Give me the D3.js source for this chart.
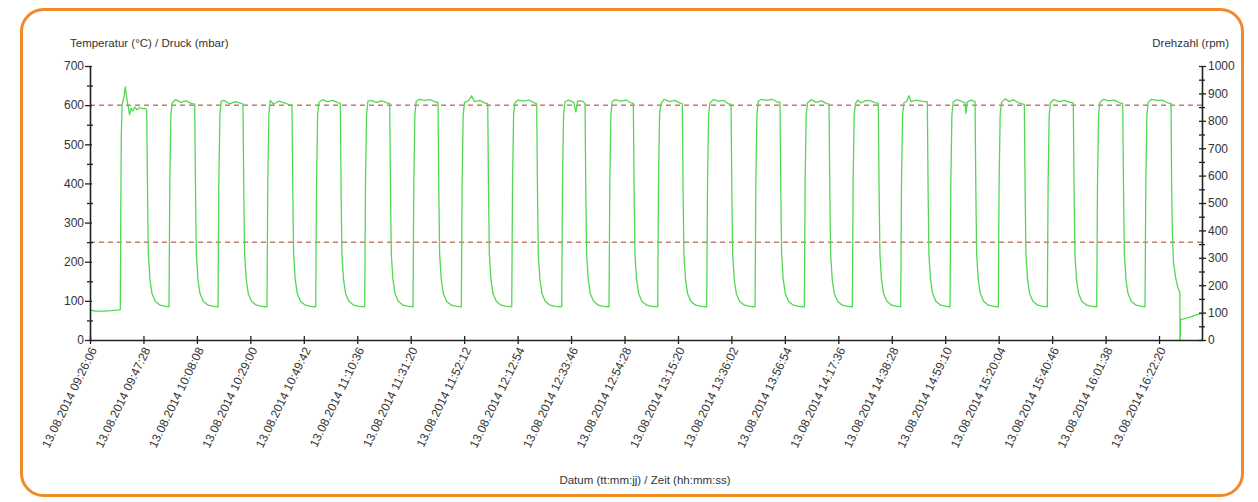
<!DOCTYPE html>
<html>
<head>
<meta charset="utf-8">
<script src="https://cdn.jsdelivr.net/npm/d3@7"></script>
<style>
  html, body { margin: 0; padding: 0; background: #ffffff; }
  svg text { font-family: "Liberation Sans", Arial, sans-serif; fill: #333; }
</style>
</head>
<body>
<svg id="chart" width="1258" height="502"></svg>
<script>
// ---- data ----
const timeLabels = [
  "13.08.2014 09:26:06", "13.08.2014 09:47:28", "13.08.2014 10:08:08", "13.08.2014 10:29:00",
  "13.08.2014 10:49:42", "13.08.2014 11:10:36", "13.08.2014 11:31:20", "13.08.2014 11:52:12",
  "13.08.2014 12:12:54", "13.08.2014 12:33:46", "13.08.2014 12:54:28", "13.08.2014 13:15:20",
  "13.08.2014 13:36:02", "13.08.2014 13:56:54", "13.08.2014 14:17:36", "13.08.2014 14:38:28",
  "13.08.2014 14:59:10", "13.08.2014 15:20:04", "13.08.2014 15:40:46", "13.08.2014 16:01:38",
  "13.08.2014 16:22:20"
];
const leftTicks = [0, 100, 200, 300, 400, 500, 600, 700];
const leftMinor = [50, 150, 250, 350, 450, 550, 650];
const rightTicks = [0, 100, 200, 300, 400, 500, 600, 700, 800, 900, 1000];
const rightMinor = [50, 150, 250, 350, 450, 550, 650, 750, 850, 950];
const limitLines = [600, 250];
const xEnd = 20.804; // axis end in tick-interval units

// temperature signal: [position in tick intervals, value °C]
const signal = [
  [0,80],[0.02,76],[0.1,74],[0.25,74],[0.4,75],[0.55,77],[0.567,78],
  [0.575,300],[0.585,520],[0.6,600],[0.64,625],[0.66,647],[0.685,620],[0.71,600],[0.74,576],[0.77,592],[0.8,585],[0.84,595],[0.88,588],[0.93,594],[0.98,591],[1.04,592],[1.061,588],
  [1.076,380],[1.091,220],[1.121,155],[1.161,118],[1.221,99],[1.311,89],[1.411,86],
  [1.478,85],[1.493,400],[1.513,575],[1.538,606],[1.598,614],[1.698,607],[1.798,611],[1.898,604],
  [1.959,603],[1.974,380],[1.989,220],[2.019,155],[2.059,118],[2.119,99],[2.209,89],[2.309,86],
  [2.395,85],[2.410,400],[2.430,575],[2.455,610],[2.515,612],[2.615,603],[2.715,609],[2.815,605],
  [2.862,603],[2.877,380],[2.892,220],[2.922,155],[2.962,118],[3.022,99],[3.112,89],[3.212,86],
  [3.311,85],[3.326,400],[3.346,575],[3.371,612],[3.431,603],[3.531,610],[3.631,606],[3.731,601],
  [3.779,600],[3.794,380],[3.809,220],[3.839,155],[3.879,118],[3.939,99],[4.029,89],[4.129,86],
  [4.223,85],[4.238,400],[4.258,575],[4.283,607],[4.343,614],[4.443,609],[4.543,612],[4.643,606],
  [4.683,605],[4.698,380],[4.713,220],[4.743,155],[4.783,118],[4.843,99],[4.933,89],[5.033,86],
  [5.139,85],[5.154,400],[5.174,575],[5.199,610],[5.259,612],[5.359,607],[5.459,611],[5.559,606],
  [5.607,604],[5.622,380],[5.637,220],[5.667,155],[5.707,118],[5.767,99],[5.857,89],[5.957,86],
  [6.043,85],[6.058,400],[6.078,575],[6.103,610],[6.163,615],[6.263,612],[6.363,614],[6.463,608],
  [6.511,607],[6.526,380],[6.541,220],[6.571,155],[6.611,118],[6.671,99],[6.761,89],[6.861,86],
  [6.947,85],[6.962,400],[6.982,575],[7.007,608],[7.08,611],[7.141,624],[7.19,609],[7.29,612],[7.39,605],
  [7.441,604],[7.456,380],[7.471,220],[7.501,155],[7.541,118],[7.601,99],[7.691,89],[7.791,86],
  [7.890,85],[7.905,400],[7.925,575],[7.950,606],[8.01,613],[8.11,610],[8.21,613],[8.31,606],
  [8.357,604],[8.372,380],[8.387,220],[8.417,155],[8.457,118],[8.517,99],[8.607,89],[8.707,86],
  [8.825,85],[8.840,400],[8.860,575],[8.885,608],[8.95,613],[9.05,607],[9.09,583],[9.12,610],[9.2,611],
  [9.261,605],[9.276,380],[9.291,220],[9.321,155],[9.361,118],[9.421,99],[9.511,89],[9.611,86],
  [9.710,85],[9.725,400],[9.745,575],[9.770,609],[9.83,614],[9.93,610],[10.03,613],[10.12,606],
  [10.165,605],[10.180,380],[10.195,220],[10.225,155],[10.265,118],[10.325,99],[10.415,89],[10.515,86],
  [10.621,85],[10.636,400],[10.656,575],[10.681,604],[10.74,615],[10.84,609],[10.94,612],[11.04,605],
  [11.081,604],[11.096,380],[11.111,220],[11.141,155],[11.181,118],[11.241,99],[11.331,89],[11.431,86],
  [11.538,85],[11.553,400],[11.573,575],[11.598,605],[11.66,614],[11.76,610],[11.86,612],[11.95,603],
  [11.993,602],[12.008,380],[12.023,220],[12.053,155],[12.093,118],[12.153,99],[12.243,89],[12.343,86],
  [12.442,85],[12.457,400],[12.477,575],[12.502,610],[12.56,615],[12.66,612],[12.76,615],[12.86,608],
  [12.909,607],[12.924,380],[12.939,220],[12.969,155],[13.009,118],[13.069,99],[13.159,89],[13.259,86],
  [13.364,85],[13.379,400],[13.399,575],[13.424,606],[13.49,614],[13.59,607],[13.69,611],[13.78,604],
  [13.826,603],[13.841,380],[13.856,220],[13.886,155],[13.926,118],[13.986,99],[14.076,89],[14.176,86],
  [14.262,85],[14.277,400],[14.297,575],[14.322,604],[14.36,613],[14.42,606],[14.52,612],[14.62,610],[14.7,606],
  [14.748,605],[14.763,380],[14.778,220],[14.808,155],[14.848,118],[14.908,99],[14.998,89],[15.098,86],
  [15.167,85],[15.182,400],[15.202,575],[15.227,606],[15.28,610],[15.32,624],[15.36,609],[15.46,613],[15.56,610],[15.62,609],
  [15.665,608],[15.680,380],[15.695,220],[15.725,155],[15.765,118],[15.825,99],[15.915,89],[16.015,86],
  [16.090,85],[16.105,400],[16.125,575],[16.150,608],[16.21,614],[16.3,610],[16.37,606],[16.39,579],[16.41,608],[16.48,613],
  [16.558,609],[16.573,380],[16.588,220],[16.618,155],[16.658,118],[16.718,99],[16.808,89],[16.908,86],
  [16.993,85],[17.008,400],[17.028,575],[17.053,607],[17.12,616],[17.2,609],[17.27,614],[17.37,606],[17.44,603],
  [17.480,602],[17.495,380],[17.510,220],[17.540,155],[17.580,118],[17.640,99],[17.730,89],[17.830,86],
  [17.910,85],[17.925,400],[17.945,575],[17.970,606],[18.03,614],[18.13,609],[18.23,612],[18.33,607],
  [18.396,606],[18.411,380],[18.426,220],[18.456,155],[18.496,118],[18.556,99],[18.646,89],[18.746,86],
  [18.834,85],[18.849,400],[18.869,575],[18.894,607],[18.96,615],[19.06,611],[19.16,613],[19.26,606],
  [19.321,604],[19.336,380],[19.351,220],[19.381,155],[19.421,118],[19.481,99],[19.571,89],[19.671,86],
  [19.738,85],[19.753,400],[19.773,575],[19.798,608],[19.86,615],[19.96,612],[20.06,613],[20.16,606],
  [20.225,604],[20.235,400],[20.25,270],[20.27,200],[20.31,160],[20.35,135],[20.39,122],
  [20.392,0],[20.397,0],[20.40,52],[20.55,57],[20.7,64],[20.804,68]
];

// ---- layout ----
const svg = d3.select("#chart");
const X0 = 90, X1 = 1202, Y0 = 340, Y1 = 66;

svg.append("rect")
  .attr("x", 21.5).attr("y", 9.5).attr("width", 1221).attr("height", 486)
  .attr("rx", 22).attr("ry", 22)
  .attr("fill", "#ffffff").attr("stroke", "#f08a2a").attr("stroke-width", 3);

const x = d3.scaleLinear().domain([0, xEnd]).range([X0, X1]);
const yL = d3.scaleLinear().domain([0, 700]).range([Y0, Y1]);
const yR = d3.scaleLinear().domain([0, 1000]).range([Y0, Y1]);

// limit lines
svg.append("g").selectAll("line").data(limitLines).join("line")
  .attr("x1", X0).attr("x2", X1)
  .attr("y1", d => yL(d)).attr("y2", d => yL(d))
  .attr("stroke", "#b0392c").attr("stroke-width", 1)
  .attr("stroke-dasharray", "5,4");

// signal
const line = d3.line().x(d => x(d[0])).y(d => yL(d[1]));
svg.append("path").datum(signal)
  .attr("d", line)
  .attr("fill", "none")
  .attr("stroke", "#52d852")
  .attr("stroke-width", 1.3)
  .attr("stroke-linejoin", "round");

const axisColor = "#222";
const fmt = d3.format("d");
function styleAxis(g) {
  g.select(".domain").attr("stroke", axisColor).attr("stroke-width", 1.6);
  g.selectAll(".tick line").attr("stroke", axisColor).attr("stroke-width", 1.3);
  g.selectAll(".tick text").attr("font-size", 12).attr("fill", "#333")
    .attr("font-family", "Liberation Sans, Arial, sans-serif");
}

// left axis
const gL = svg.append("g").attr("transform", `translate(${X0},0)`)
  .call(d3.axisLeft(yL).tickValues(leftTicks).tickFormat(fmt).tickSize(5).tickPadding(1).tickSizeOuter(0));
styleAxis(gL);
gL.selectAll(".tick line").attr("x2", -5).attr("x1", 2);
const gLm = svg.append("g").attr("transform", `translate(${X0},0)`)
  .call(d3.axisLeft(yL).tickValues(leftMinor).tickSize(3).tickFormat("").tickSizeOuter(0));
styleAxis(gLm);
gLm.select(".domain").remove();
gLm.selectAll(".tick line").attr("x1", 3);

// right axis
const gR = svg.append("g").attr("transform", `translate(${X1},0)`)
  .call(d3.axisRight(yR).tickValues(rightTicks).tickFormat(fmt).tickSize(4).tickPadding(2).tickSizeOuter(0));
styleAxis(gR);
gR.selectAll(".tick line").attr("x1", -3);
const gRm = svg.append("g").attr("transform", `translate(${X1},0)`)
  .call(d3.axisRight(yR).tickValues(rightMinor).tickSize(3).tickFormat("").tickSizeOuter(0));
styleAxis(gRm);
gRm.select(".domain").remove();
gRm.selectAll(".tick line").attr("x1", -3);

// bottom axis
const gB = svg.append("g").attr("transform", `translate(0,${Y0})`)
  .call(d3.axisBottom(x).tickValues(d3.range(timeLabels.length))
    .tickFormat(i => timeLabels[i]).tickSize(4).tickSizeOuter(0));
styleAxis(gB);
gB.selectAll(".tick line").attr("y1", -4);
gB.selectAll(".tick text")
  .attr("text-anchor", "end")
  .attr("dy", "0.35em")
  .attr("transform", "translate(3,8) rotate(-64)")
  .attr("x", 0).attr("y", 0);

// titles
svg.append("text").attr("x", 70).attr("y", 47)
  .attr("font-size", 11.5).text("Temperatur (°C) / Druck (mbar)");
svg.append("text").attr("x", 1229).attr("y", 47).attr("text-anchor", "end")
  .attr("font-size", 11.5).text("Drehzahl (rpm)");
svg.append("text").attr("x", 645).attr("y", 484).attr("text-anchor", "middle")
  .attr("font-size", 11.5).text("Datum (tt:mm:jj) / Zeit (hh:mm:ss)");
</script>
</body>
</html>
